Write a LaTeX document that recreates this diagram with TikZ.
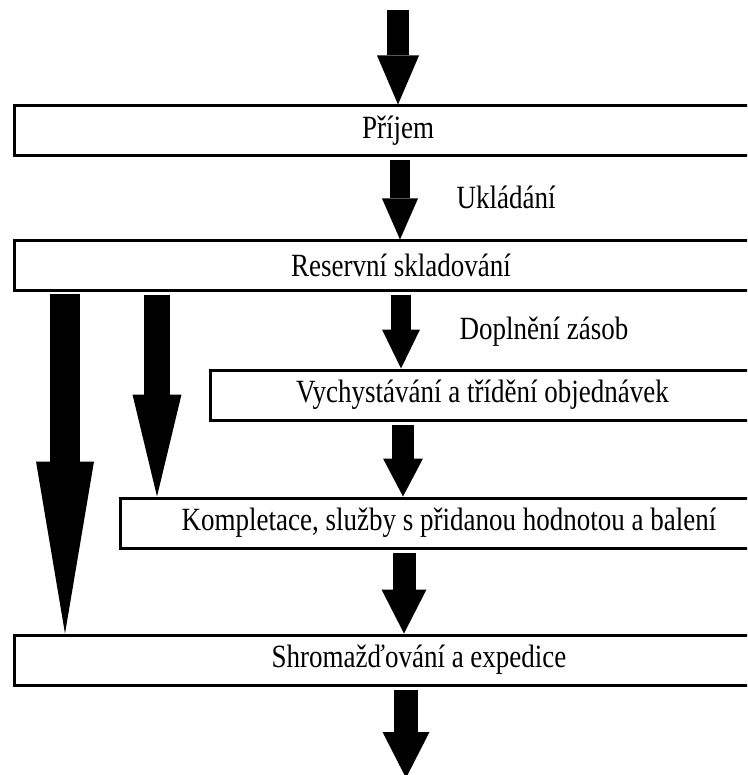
\documentclass[tikz,border=0pt]{standalone}
\usepackage{fontspec}
\usepackage{graphicx}
\setmainfont{Liberation Serif}
\usetikzlibrary{arrows.meta,calc}
\newcommand{\tallt}[1]{\scalebox{1}[1.2]{#1}}
\begin{document}
\begin{tikzpicture}[x=1pt,y=-1pt,
  box/.style={draw,line width=3pt,rectangle,inner sep=0pt,minimum height=50pt,font=\fontsize{27}{32}\selectfont},
  lbl/.style={font=\fontsize{27}{32}\selectfont,inner sep=0pt},
  blk/.style n args={3}{line width=#1pt,-{Triangle[width=#2pt,length=#3pt,line width=0pt]}}]
\useasboundingbox (0,0) rectangle (747,775);
\clip (0,0) rectangle (747,775);

% boxes (right edges run past the picture's edge)
\node[box,minimum width=768pt] (b1) at (398,131) {\tallt{Příjem}};
\node[box,minimum width=774pt,minimum height=49pt] (b2) at (401,265.5) {\tallt{Reservní skladování}};
\node[box,minimum width=545pt] (b3) at (482.5,395) {\tallt{Vychystávání a třídění objednávek}};
\node[box,minimum width=658pt] (b4) at (449,523) {\tallt{Kompletace, služby s přidanou hodnotou a balení}};
\node[box,minimum width=810pt] (b5) at (419,660) {\tallt{Shromažďování a expedice}};

% labels
\node[lbl] (uk) at (506,197) {\tallt{Ukládání}};
\node[lbl] (dz) at (544,332) {\tallt{Doplnění zásob}};

% column coordinates
\coordinate (in) at (398,10);
\coordinate (x1) at (400,0);
\coordinate (x2) at (401,0);
\coordinate (x3) at (403,0);
\coordinate (x4) at (404,0);
\coordinate (out) at (406,778);
\coordinate (xl) at (65,0);
\coordinate (xm) at (157,0);

% block arrows
\draw[blk={22}{42}{49}] (in) -- (in |- b1.north);
\draw[blk={20}{36}{41}] ($(x1 |- b1.south)+(0,3)$) -- (x1 |- b2.north);
\draw[blk={20}{38}{39}] ($(x2 |- b2.south)+(0,3)$) -- (x2 |- b3.north);
\draw[blk={22}{40}{38}] ($(x3 |- b3.south)+(0,3)$) -- (x3 |- b4.north);
\draw[blk={23}{45}{44}] ($(x4 |- b4.south)+(0,3)$) -- (x4 |- b5.north);
\draw[blk={24}{47}{46}] ($(out |- b5.south)+(0,3)$) -- (out);
\draw[blk={30}{58}{172}] ($(xl |- b2.south)+(0,2)$) -- (xl |- b5.north);
\draw[blk={26}{49}{102}] ($(xm |- b2.south)+(0,3)$) -- (xm |- b4.north);
\end{tikzpicture}
\end{document}
